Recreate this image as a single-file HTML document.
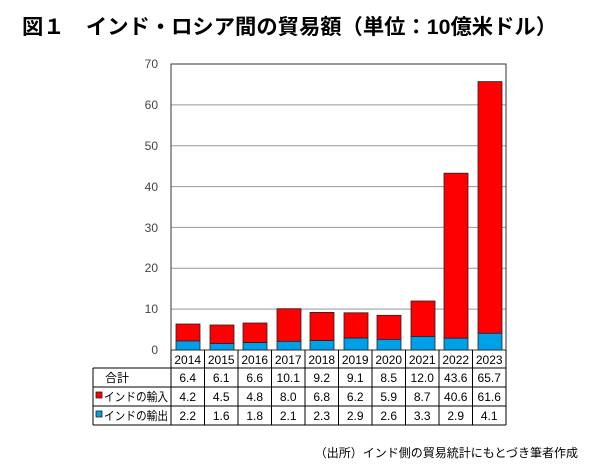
<!DOCTYPE html>
<html><head><meta charset="utf-8"><style>
body{margin:0;background:#fff;width:600px;height:470px;overflow:hidden;font-family:"Liberation Sans","Noto Sans CJK JP",sans-serif}
</style></head><body>
<svg width="600" height="470" xmlns="http://www.w3.org/2000/svg" font-family="Liberation Sans, Noto Sans CJK JP, sans-serif">
<text x="22" y="34" font-size="21" font-weight="bold" fill="#000" textLength="535" lengthAdjust="spacingAndGlyphs">図１　インド・ロシア間の貿易額（単位：10億米ドル）</text>
<g id="grid" stroke="#999" stroke-width="1">
<line x1="171" x2="506" y1="309.1" y2="309.1"/><line x1="171" x2="506" y1="268.3" y2="268.3"/>
<line x1="171" x2="506" y1="227.4" y2="227.4"/><line x1="171" x2="506" y1="186.6" y2="186.6"/>
<line x1="171" x2="506" y1="145.7" y2="145.7"/><line x1="171" x2="506" y1="104.9" y2="104.9"/>
</g>
<rect x="171" y="64" width="335" height="286" fill="none" stroke="#333" stroke-width="1"/>
<g font-size="12" fill="#444" text-anchor="end">
<text x="158" y="354">0</text><text x="158" y="313">10</text><text x="158" y="272">20</text><text x="158" y="232">30</text><text x="158" y="191">40</text><text x="158" y="150">50</text><text x="158" y="109">60</text><text x="158" y="68">70</text>
</g>
<g stroke="#222" stroke-width="0.8">
<rect x="176" y="324" width="24" height="17.2" fill="#ff0000"/><rect x="176" y="341" width="24" height="9" fill="#00a0e9"/>
<rect x="210" y="325" width="24" height="18.4" fill="#ff0000"/><rect x="210" y="343.5" width="24" height="6.5" fill="#00a0e9"/>
<rect x="243" y="323" width="24" height="19.6" fill="#ff0000"/><rect x="243" y="342.6" width="24" height="7.4" fill="#00a0e9"/>
<rect x="277" y="308.7" width="24" height="32.7" fill="#ff0000"/><rect x="277" y="341.4" width="24" height="8.6" fill="#00a0e9"/>
<rect x="310" y="312.4" width="24" height="28.2" fill="#ff0000"/><rect x="310" y="340.6" width="24" height="9.4" fill="#00a0e9"/>
<rect x="344" y="312.8" width="24" height="25.3" fill="#ff0000"/><rect x="344" y="338.1" width="24" height="11.9" fill="#00a0e9"/>
<rect x="377" y="315.3" width="24" height="24.1" fill="#ff0000"/><rect x="377" y="339.4" width="24" height="10.6" fill="#00a0e9"/>
<rect x="411" y="301" width="24" height="35.5" fill="#ff0000"/><rect x="411" y="336.5" width="24" height="13.5" fill="#00a0e9"/>
<rect x="444" y="173.2" width="24" height="165" fill="#ff0000"/><rect x="444" y="338.2" width="24" height="11.8" fill="#00a0e9"/>
<rect x="478" y="81.6" width="24" height="251.7" fill="#ff0000"/><rect x="478" y="333.3" width="24" height="16.7" fill="#00a0e9"/>
</g>
<g stroke="#000" stroke-width="1" fill="none">
<line x1="171" x2="506" y1="368" y2="368"/><line x1="93" x2="506" y1="387" y2="387"/>
<line x1="93" x2="506" y1="406" y2="406"/><line x1="93" x2="506" y1="425" y2="425"/>
<line x1="93" x2="93" y1="368" y2="425"/>
<line x1="171" x2="171" y1="350" y2="425"/><line x1="204.5" x2="204.5" y1="350" y2="425"/><line x1="238" x2="238" y1="350" y2="425"/><line x1="271.5" x2="271.5" y1="350" y2="425"/><line x1="305" x2="305" y1="350" y2="425"/><line x1="338.5" x2="338.5" y1="350" y2="425"/><line x1="372" x2="372" y1="350" y2="425"/><line x1="405.5" x2="405.5" y1="350" y2="425"/><line x1="439" x2="439" y1="350" y2="425"/><line x1="472.5" x2="472.5" y1="350" y2="425"/><line x1="506" x2="506" y1="350" y2="425"/>
<line x1="93" x2="171" y1="368" y2="368"/>
</g>
<g font-size="12" fill="#000" text-anchor="middle">
<text x="187.7" y="364">2014</text><text x="221.2" y="364">2015</text><text x="254.7" y="364">2016</text><text x="288.2" y="364">2017</text><text x="321.7" y="364">2018</text><text x="355.2" y="364">2019</text><text x="388.7" y="364">2020</text><text x="422.2" y="364">2021</text><text x="455.7" y="364">2022</text><text x="489.2" y="364">2023</text>
<text x="187.7" y="382">6.4</text><text x="221.2" y="382">6.1</text><text x="254.7" y="382">6.6</text><text x="288.2" y="382">10.1</text><text x="321.7" y="382">9.2</text><text x="355.2" y="382">9.1</text><text x="388.7" y="382">8.5</text><text x="422.2" y="382">12.0</text><text x="455.7" y="382">43.6</text><text x="489.2" y="382">65.7</text>
<text x="187.7" y="401">4.2</text><text x="221.2" y="401">4.5</text><text x="254.7" y="401">4.8</text><text x="288.2" y="401">8.0</text><text x="321.7" y="401">6.8</text><text x="355.2" y="401">6.2</text><text x="388.7" y="401">5.9</text><text x="422.2" y="401">8.7</text><text x="455.7" y="401">40.6</text><text x="489.2" y="401">61.6</text>
<text x="187.7" y="420">2.2</text><text x="221.2" y="420">1.6</text><text x="254.7" y="420">1.8</text><text x="288.2" y="420">2.1</text><text x="321.7" y="420">2.3</text><text x="355.2" y="420">2.9</text><text x="388.7" y="420">2.6</text><text x="422.2" y="420">3.3</text><text x="455.7" y="420">2.9</text><text x="489.2" y="420">4.1</text>
</g>
<g font-size="12" fill="#000">
<text x="105" y="382">合計</text>
<rect x="96" y="392" width="6" height="6" fill="#ff0000" stroke="#222" stroke-width="0.8"/>
<text x="104" y="401" textLength="64" lengthAdjust="spacingAndGlyphs">インドの輸入</text>
<rect x="96" y="411" width="6" height="6" fill="#00a0e9" stroke="#222" stroke-width="0.8"/>
<text x="104" y="420" textLength="64" lengthAdjust="spacingAndGlyphs">インドの輸出</text>
</g>
<text x="578" y="457" font-size="12" fill="#000" text-anchor="end">（出所）インド側の貿易統計にもとづき筆者作成</text>
</svg>
</body></html>
